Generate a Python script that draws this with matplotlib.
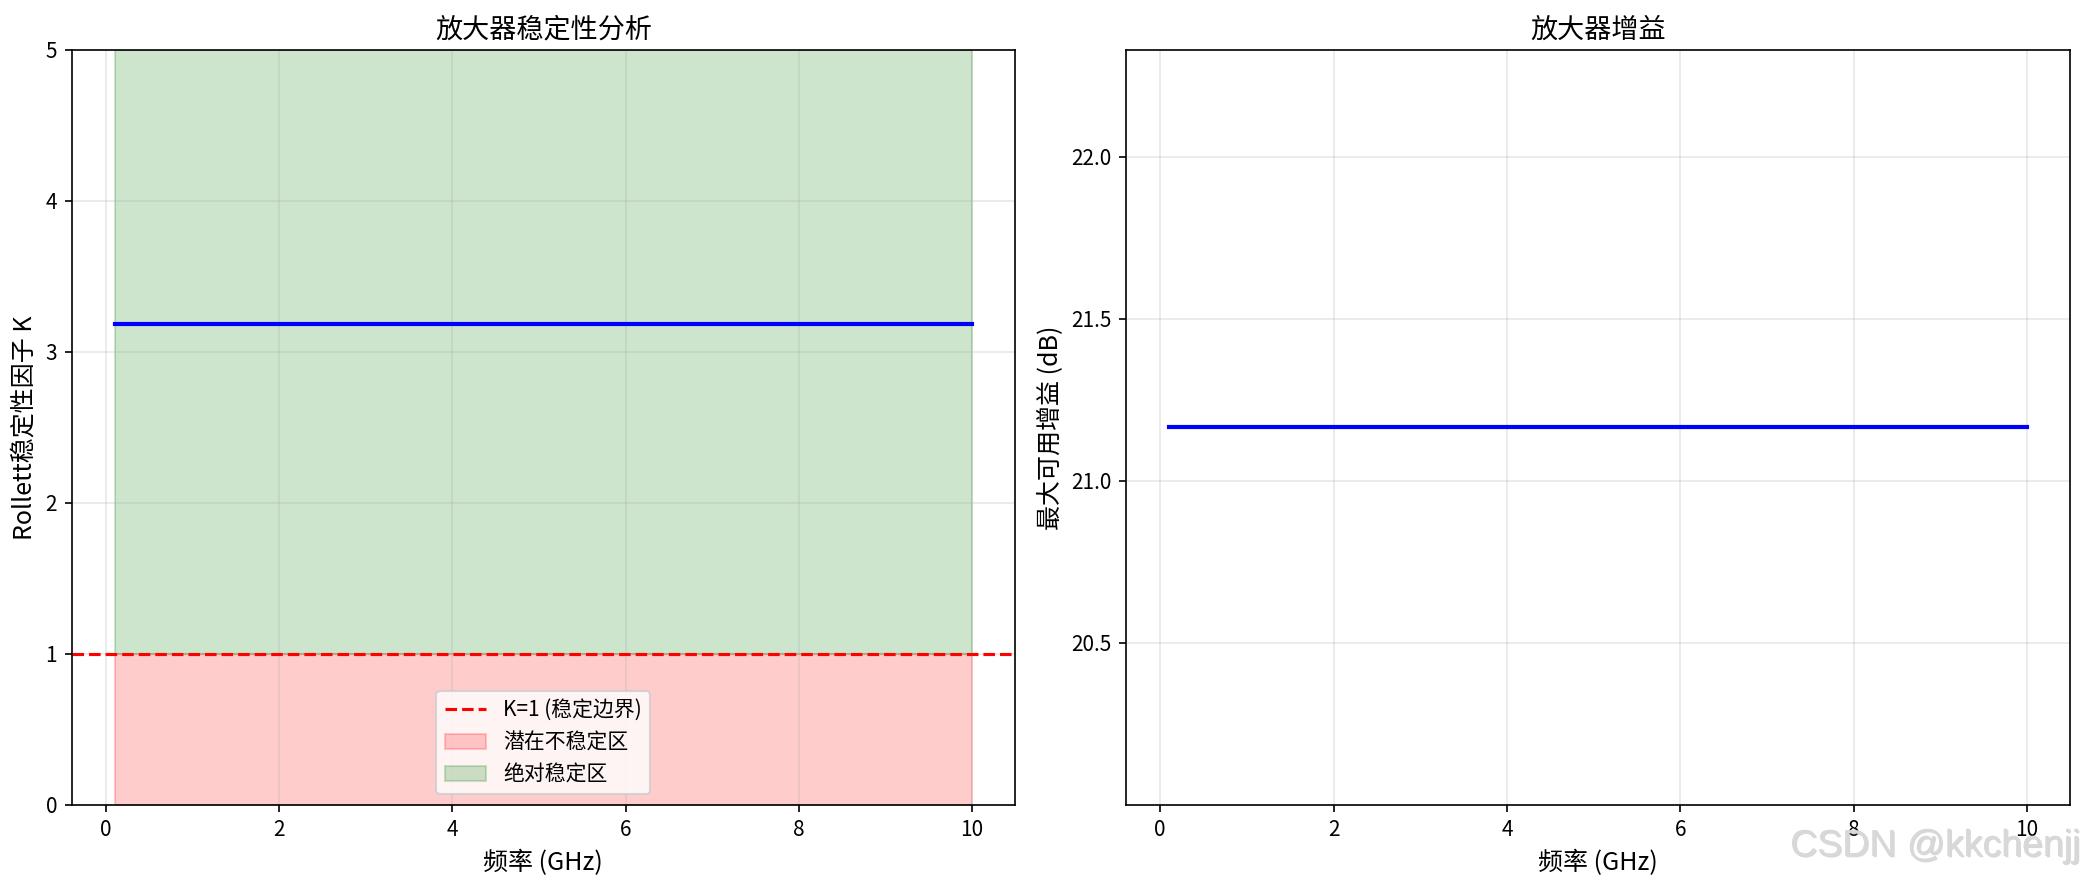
import matplotlib
matplotlib.use("Agg")
import matplotlib.pyplot as plt
import matplotlib.patheffects as pe
import numpy as np

plt.rcParams['font.family'] = ['Noto Sans CJK SC', 'DejaVu Sans']
plt.rcParams['axes.unicode_minus'] = False

# Data
freq_ghz = [0.1, 2.0, 4.0, 6.0, 8.0, 10.0]
k_factor = [3.185, 3.185, 3.185, 3.185, 3.185, 3.185]
max_gain_db = [21.165, 21.165, 21.165, 21.165, 21.165, 21.165]
k_boundary = 1.0
k_ylim = (0, 5)

W, H = 2084, 884
fig = plt.figure(figsize=(W / 150, H / 150), dpi=150)

top = 50 / H
bottom = 804.7 / H
ax1 = fig.add_axes([71.7 / W, 1 - bottom, (1015 - 71.7) / W, bottom - top])
ax2 = fig.add_axes([1126 / W, 1 - bottom, (2070 - 1126) / W, bottom - top])

# Left: stability
ax1.plot(freq_ghz, k_factor, 'b-', linewidth=2)
ax1.axhline(y=k_boundary, color='r', linestyle='--', linewidth=1.5, label='K=1 (稳定边界)')
ax1.fill_between(freq_ghz, 0, k_boundary, alpha=0.2, color='red', label='潜在不稳定区')
ax1.fill_between(freq_ghz, k_boundary, k_ylim[1], alpha=0.2, color='green', label='绝对稳定区')
ax1.set_ylim(*k_ylim)
ax1.set_xlabel('频率 (GHz)', fontsize=12)
ax1.set_ylabel('Rollett稳定性因子 K', fontsize=12)
ax1.set_title('放大器稳定性分析', fontsize=13)
ax1.grid(True, alpha=0.3)
ax1.legend(loc='lower center', fontsize=10)

# Right: gain
ax2.plot(freq_ghz, max_gain_db, 'b-', linewidth=2)
ax2.set_xlabel('频率 (GHz)', fontsize=12)
ax2.set_ylabel('最大可用增益 (dB)', fontsize=12)
ax2.set_title('放大器增益', fontsize=13)
ax2.grid(True, alpha=0.3)

# Watermark
fig.text(2080 / W, 1 - 856 / H, 'CSDN @kkchenjj', ha='right', va='baseline',
         fontsize=18, color='#d8d8d8', family=['Liberation Sans', 'DejaVu Sans'],
         path_effects=[pe.withSimplePatchShadow(offset=(0.6, -0.6), shadow_rgbFace='#b0b0b0', alpha=0.5),
                       pe.Normal()])

fig.savefig('out.png', dpi=150)
